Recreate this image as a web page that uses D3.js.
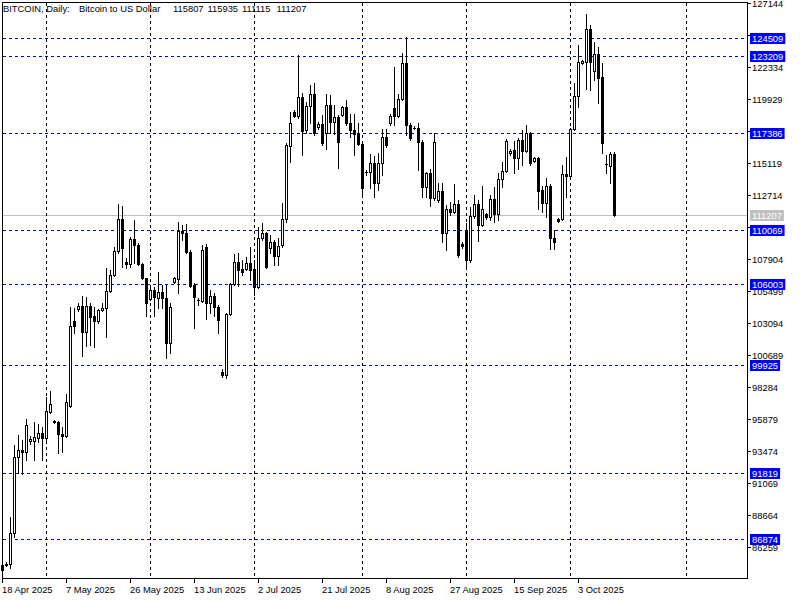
<!DOCTYPE html>
<html><head><meta charset="utf-8">
<script src="https://cdn.jsdelivr.net/npm/d3@7"></script>
<style>
html,body{margin:0;padding:0;background:#fff;}
svg{display:block;}
text{font-family:"Liberation Sans",Arial,sans-serif;font-size:9.4px;white-space:pre;}
</style></head><body>
<svg id="chart" width="800" height="600"></svg>
<script>
// ---- data (daily bars, Saturdays absent) ----
const dates = [
"04-18","04-20","04-21","04-22","04-23","04-24","04-25","04-27","04-28","04-29",
"04-30","05-01","05-02","05-04","05-05","05-06","05-07","05-08","05-09","05-11",
"05-12","05-13","05-14","05-15","05-16","05-18","05-19","05-20","05-21","05-22",
"05-23","05-25","05-26","05-27","05-28","05-29","05-30","06-01","06-02","06-03",
"06-04","06-05","06-06","06-08","06-09","06-10","06-11","06-12","06-13","06-15",
"06-16","06-17","06-18","06-19","06-20","06-22","06-23","06-24","06-25","06-26",
"06-27","06-29","06-30","07-01","07-02","07-03","07-04","07-06","07-07","07-08",
"07-09","07-10","07-11","07-13","07-14","07-15","07-16","07-17","07-18","07-20",
"07-21","07-22","07-23","07-24","07-25","07-27","07-28","07-29","07-30","07-31",
"08-01","08-03","08-04","08-05","08-06","08-07","08-08","08-10","08-11","08-12",
"08-13","08-14","08-15","08-17","08-18","08-19","08-20","08-21","08-22","08-24",
"08-25","08-26","08-27","08-28","08-29","08-31","09-01","09-02","09-03","09-04",
"09-05","09-07","09-08","09-09","09-10","09-11","09-12","09-14","09-15","09-16",
"09-17","09-18","09-19","09-21","09-22","09-23","09-24","09-25","09-26","09-28",
"09-29","09-30","10-01","10-02","10-03","10-05","10-06","10-07","10-08","10-09",
"10-10","10-12","10-13","10-14"];
const year = 2025;

const open = [
84880,84900,84930,87270,93030,93530,93360,94190,94230,94460,
94790,94410,96420,95720,95670,94720,94610,96870,103240,104120,
104370,102430,104370,103620,103240,104070,104200,105500,106700,108510,
110890,107700,107530,109390,108960,107510,106450,104870,105570,104950,
105450,104950,101560,106200,106380,110010,109840,108450,105950,104820,
104770,108830,104570,105120,104320,99430,99180,103740,106020,107700,
107180,107180,107580,107130,105820,109460,109880,108710,109210,108130,
108960,110890,116410,118990,118660,120070,117610,119420,120320,117860,
118060,117360,119490,118240,118570,118740,119320,118120,117610,117310,
116560,114430,114430,115110,113600,115110,117110,118120,119300,118660,
119920,122630,117990,117780,117780,116690,113350,114350,112520,112340,
113020,109880,111640,111460,112040,109030,110090,107830,111140,112040,
110460,111270,111040,112400,111270,113920,114530,115860,116110,115530,
116860,116050,117360,115280,115480,113100,112140,113400,109460,110910,
110910,114300,114170,117660,120190,122630,122750,125190,122070,123330,
121580,115050,114930,115807];
const high = [
85060,85080,88520,93910,94660,94290,95840,94560,95660,95490,
95290,97500,97970,95800,95700,95290,97730,104270,104240,104620,
105120,105070,104570,104320,104120,104570,107250,107080,108830,112020,
111890,107960,109580,110840,109090,107580,106500,105950,105820,106950,
105950,105950,104570,106570,110670,110460,110520,108580,106080,104950,
108960,109010,105570,105320,104440,99610,103820,106120,108260,108330,
107830,108080,108830,107830,110340,110640,109960,109710,109330,109460,
112100,116610,118990,119120,123250,120370,119740,121000,121120,118200,
118740,120300,120240,119490,118740,119400,119870,118790,118820,118120,
116730,114600,115810,115660,115860,117660,117660,118800,122330,120320,
123380,124590,118120,117900,118120,116860,114480,114650,117360,113600,
113650,111970,112220,113550,112340,109200,110590,111840,112720,112340,
113400,111400,112720,113300,114350,115180,116910,116200,116780,116990,
117610,117990,117480,115550,115600,113400,114020,113550,110090,111000,
114980,115600,117740,121120,124010,122850,126340,125510,124250,123880,
122630,115730,115980,115935];
const low = [
84420,84780,84630,87010,91780,91730,92780,93950,92780,94160,
92780,94040,96300,95550,93330,93360,94540,96790,102320,104015,
100630,101380,101430,101310,103070,103990,102060,105450,106630,108330,
107330,107200,107330,107580,107450,106380,103640,104820,103640,104200,
104200,100430,100810,106080,105370,109330,108380,105820,102690,104450,
104690,103370,103820,103620,102310,99050,98930,103690,105950,105870,
106700,107050,106330,105200,105700,109330,107200,108330,107450,107450,
108830,110710,115230,118570,118490,115730,117360,118120,117230,117700,
116480,116160,117360,117310,114730,118650,117990,117110,115730,116480,
112590,114200,113220,112590,113120,114230,116360,117990,117990,118610,
119870,117230,116860,117650,114600,112590,112590,111890,112340,112200,
109210,108580,111200,111340,108080,108700,107200,107700,110970,109280,
110390,110950,110840,110710,110840,113300,114470,115700,114400,114650,
114980,115980,114980,115200,111670,111460,111090,108640,108640,110700,
110840,112590,114100,117600,119320,122550,120670,120620,121370,119670,
115900,114350,113650,111115];
const close = [
84500,84950,87270,93030,93530,93360,95415,94360,94490,94790,
94410,96470,96990,95620,94720,94610,97120,102860,102860,104370,
102430,104370,103560,103260,104070,104240,105500,106700,108510,110890,
108710,107530,109390,108960,107510,106450,104620,105570,105070,105450,
104950,101560,104270,106450,110010,109840,108450,105870,105070,104850,
108580,104570,105120,104320,103320,99180,103740,106020,107700,107080,
106900,107580,107080,105820,109460,109840,107330,109210,108130,108880,
110890,116480,118160,118660,120070,117560,119420,120320,117410,118040,
116610,119490,118240,118570,116730,119320,118120,117610,117310,116560,
113220,114430,115110,113600,115110,117110,116480,118660,118660,119920,
122630,117990,116980,117790,116690,113350,114350,112520,116690,113020,
109880,111640,111460,112040,108210,108880,107830,111140,112040,110460,
111640,111040,112400,111270,113920,114530,116780,116050,115530,116860,
116050,117360,115110,115480,113040,112140,113400,109460,109210,110790,
114300,114170,117660,120190,122750,122800,125190,122750,123330,121550,
116660,115060,115780,111207];

const priceTicks = [127144,124739,122334,119929,117524,115119,112714,110309,107904,
  105499,103094,100689,98284,95879,93474,91069,88664,86259];
const levelLines = [124509,123209,117386,110069,106003,99925,91819,86874];
const dateTicks = ["04-18","05-07","05-26","06-13","07-02","07-21","08-08","08-27","09-15","10-03"];
const monthStarts = ["05-01","06-01","07-01","08-01","09-01","10-01","11-01"];
const titleParts = ["BITCOIN, Daily:", "Bitcoin to US Dollar"];

// ---- setup ----
const W = 800, H = 600, plotL = 2, plotT = 2, plotR = 747, plotB = 578;
const N = dates.length;
const parse = s => new Date(Date.UTC(year, +s.slice(0,2)-1, +s.slice(3,5)));
const dayMs = 86400000;
const dateObjs = dates.map(parse);
function indexOfDate(s){
  const t = parse(s).getTime();
  for (let i=0;i<N;i++) if (dateObjs[i].getTime() >= t) return i;
  return (N-1) + Math.round((t - dateObjs[N-1].getTime())/dayMs);
}
const x = d3.scaleLinear().domain([0, N-1]).range([2.5, 2.5 + 4*(N-1)]);
const y = d3.scaleLinear().domain([83903, 127242]).range([plotB, plotT]);
const fmtDate = d3.utcFormat("%-d %b %Y");

const svg = d3.select("#chart");
svg.append("rect").attr("width",W).attr("height",H).attr("fill","#fff");

// title (under the grid), laid out as separate segments
const titleX = [3, 79];
const ohlcX = [173, 207.5, 242, 276.5];
const tg = svg.append("g").attr("fill","#000");
titleParts.forEach((s,k) => tg.append("text").attr("x",titleX[k]).attr("y",12).text(s));
[open[N-1],high[N-1],low[N-1],close[N-1]].forEach((v,k) =>
  tg.append("text").attr("x",ohlcX[k]).attr("y",12).text(v));

// bid line
const py = v => Math.round(y(v)) + 0.5;
svg.append("line").attr("x1",3).attr("x2",plotR).attr("y1",py(close[N-1])).attr("y2",py(close[N-1]))
  .attr("stroke","#c0c0c0").attr("stroke-width",1);

// level lines
svg.append("g").selectAll("line").data(levelLines).join("line")
  .attr("x1",3).attr("x2",plotR).attr("y1",d=>py(d)).attr("y2",d=>py(d))
  .attr("stroke","#0000ff").attr("stroke-width",1).attr("stroke-dasharray","3,3");

// vertical grid at month starts
svg.append("g").selectAll("line").data(monthStarts).join("line")
  .attr("x1",d=>Math.floor(x(indexOfDate(d)))+0.5).attr("x2",d=>Math.floor(x(indexOfDate(d)))+0.5)
  .attr("y1",3).attr("y2",plotB).attr("stroke","#000").attr("stroke-width",1).attr("stroke-dasharray","3,3");

// candles
const bars = d3.range(N).map(i => ({i, o:open[i], h:high[i], l:low[i], c:close[i]}));
const cg = svg.append("g");
cg.selectAll("rect.wick").data(bars).join("rect").attr("class","wick")
  .attr("x", d=>Math.floor(x(d.i))).attr("width",1)
  .attr("y", d=>Math.round(y(d.h)))
  .attr("height", d=>Math.max(1, Math.round(y(d.l)) - Math.round(y(d.h)) + 1))
  .attr("fill","#000");
bars.forEach(d => {
  const top = Math.round(y(Math.max(d.o,d.c))), bot = Math.round(y(Math.min(d.o,d.c)));
  const cx = Math.floor(x(d.i));
  if (d.c >= d.o && bot - top >= 2) {
    cg.append("rect").attr("x",cx-0.5).attr("y",top+0.5).attr("width",2).attr("height",bot-top)
      .attr("fill","#fff").attr("stroke","#000").attr("stroke-width",1);
  } else {
    cg.append("rect").attr("x",cx-1).attr("y",top).attr("width",3).attr("height",bot-top+1)
      .attr("fill","#000");
  }
});

// frame
svg.append("rect").attr("x",plotL+0.5).attr("y",plotT+0.5).attr("width",plotR-plotL).attr("height",plotB-plotT)
  .attr("fill","none").attr("stroke","#000").attr("stroke-width",1);

// right axis ticks + labels
const ra = svg.append("g");
ra.selectAll("line").data(priceTicks).join("line")
  .attr("x1",plotR+0.5).attr("x2",plotR+4).attr("y1",d=>py(d)).attr("y2",d=>py(d)).attr("stroke","#000");
ra.selectAll("text").data(priceTicks).join("text")
  .attr("x",plotR+5).attr("y",d=>py(d)+3.3).attr("fill","#000").text(d=>d);

// bottom axis ticks + labels
const ba = svg.append("g");
ba.selectAll("line").data(dateTicks).join("line")
  .attr("x1",d=>Math.floor(x(indexOfDate(d)))+0.5).attr("x2",d=>Math.floor(x(indexOfDate(d)))+0.5)
  .attr("y1",plotB+0.5).attr("y2",plotB+5).attr("stroke","#000");
ba.selectAll("text").data(dateTicks).join("text")
  .attr("x",d=>Math.floor(x(indexOfDate(d)))).attr("y",plotB+15).attr("fill","#000")
  .text(d=>fmtDate(parse(d)));

// level labels
function tagLabel(v, bg){
  const g = svg.append("g");
  const r = g.append("rect").attr("fill",bg);
  const t = g.append("text").attr("x",plotR+5).attr("y",py(v)+3.3).attr("fill","#fff").text(v);
  const w = t.node().getComputedTextLength();
  r.attr("x",plotR+3).attr("y",Math.round(y(v))-5).attr("width",w+4).attr("height",11);
}
levelLines.forEach(v => tagLabel(v, "#0000ff"));
tagLabel(close[N-1], "#c0c0c0");
</script>
</body></html>
